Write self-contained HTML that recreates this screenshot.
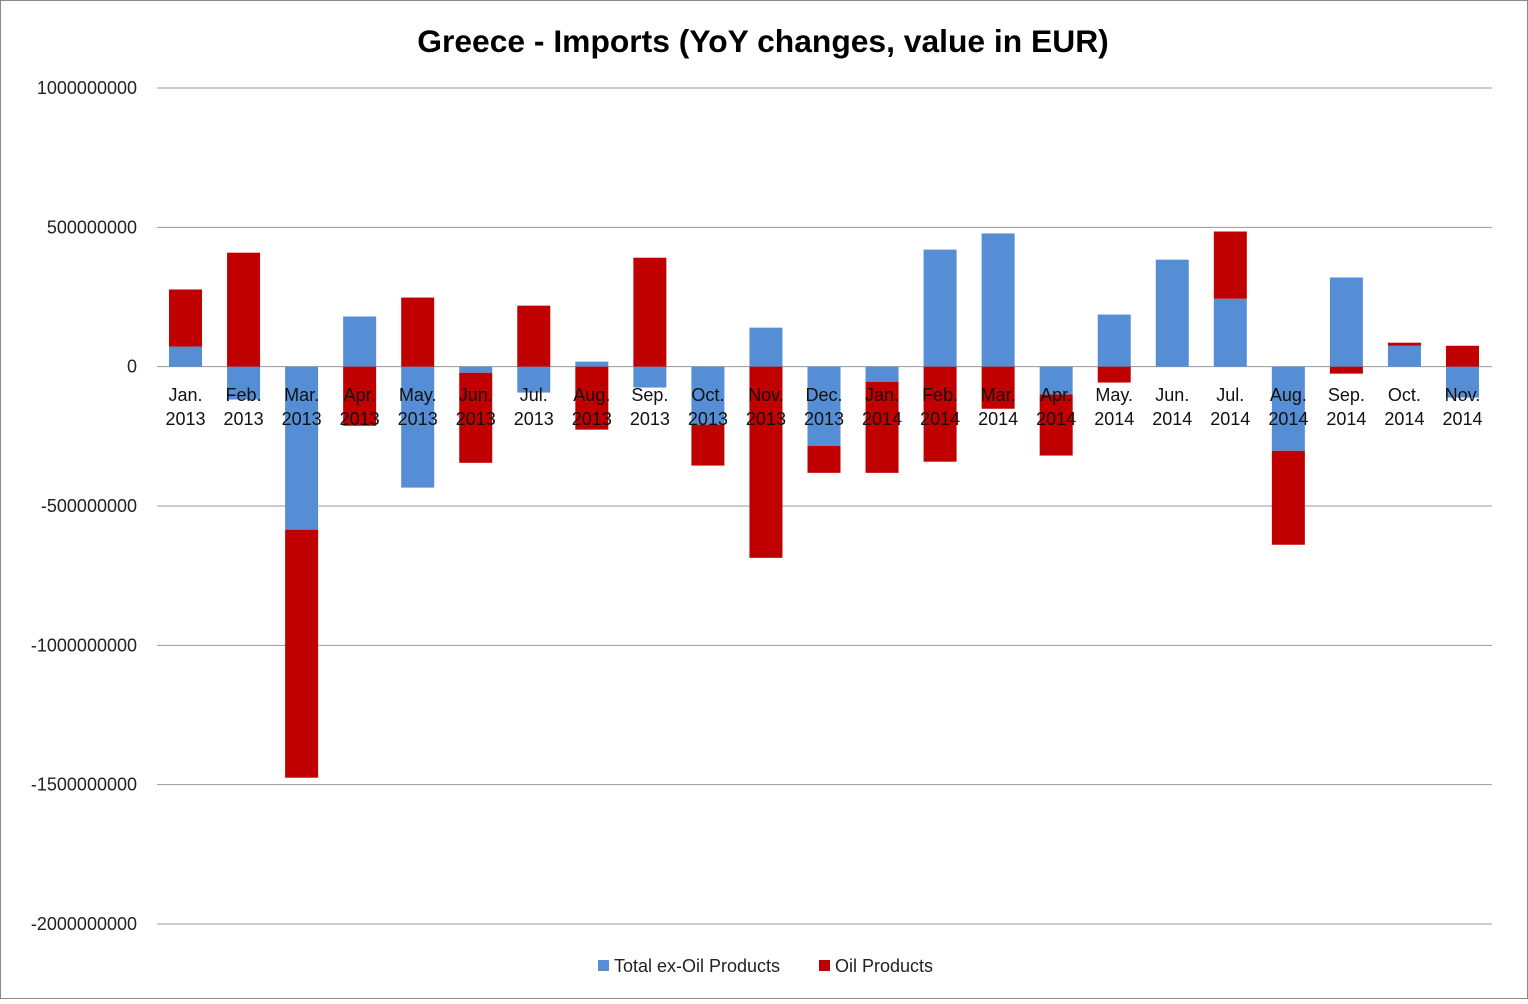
<!DOCTYPE html>
<html><head><meta charset="utf-8">
<style>
html,body{margin:0;padding:0;background:#fff;}
body{width:1528px;height:999px;overflow:hidden;font-family:"Liberation Sans",sans-serif;}
</style></head>
<body>
<svg id="chart" width="1528" height="999" xmlns="http://www.w3.org/2000/svg">
<rect x="0.5" y="0.5" width="1527" height="998" fill="#fff" stroke="#888"/>
<text x="763" y="52" text-anchor="middle" font-size="31.8" font-weight="bold" fill="#000">Greece - Imports (YoY changes, value in EUR)</text>
<g id="grid"></g><g id="bars"></g><g id="labels"></g>
<g>
<rect x="598" y="960" width="11" height="11" fill="#558ED5"/>
<text x="614" y="972" font-size="18" fill="#222">Total ex-Oil Products</text>
<rect x="819" y="960" width="11" height="11" fill="#C00000"/>
<text x="835" y="972" font-size="18" fill="#222">Oil Products</text>
</g>
</svg>
<script>
const months=["Jan.","Feb.","Mar.","Apr.","May.","Jun.","Jul.","Aug.","Sep.","Oct.","Nov.","Dec.","Jan.","Feb.","Mar.","Apr.","May.","Jun.","Jul.","Aug.","Sep.","Oct.","Nov."];
const years=["2013","2013","2013","2013","2013","2013","2013","2013","2013","2013","2013","2013","2014","2014","2014","2014","2014","2014","2014","2014","2014","2014","2014"];
const totalExOil=[72,-118,-585,180,-434,-22,-93,18,-75,-208,140,-284,-54,420,478,-100,187,384,244,-302,320,75,-111];
const oilProducts=[205,409,-890,-212,248,-323,219,-226,391,-147,-686,-97,-327,-341,-151,-219,-57,0,241,-337,-25,11,75];
const yTicks=[1000,500,0,-500,-1000,-1500,-2000];
const yTickLabels=["1000000000","500000000","0","-500000000","-1000000000","-1500000000","-2000000000"];
const NS="http://www.w3.org/2000/svg";
const x0=157,x1=1492,yTop=88,yBot=924,vMax=1000,vMin=-2000;
function y(v){return yTop+(vMax-v)/(vMax-vMin)*(yBot-yTop);}
const step=(x1-x0)/months.length;
function xc(i){return x0+step*(i+0.5);}
function mk(tag,attrs,parent){const e=document.createElementNS(NS,tag);for(const k in attrs)e.setAttribute(k,attrs[k]);parent.appendChild(e);return e;}
const grid=document.getElementById('grid'),bars=document.getElementById('bars'),labels=document.getElementById('labels');
yTicks.forEach((t,i)=>{
  const l=mk('line',{x1:x0,x2:x1,y1:y(t),y2:y(t),stroke:'#999','stroke-width':1},grid);
  
  
  const tx=mk('text',{x:137,y:y(t)+6,'text-anchor':'end','font-size':18,fill:'#222'},grid);
  tx.textContent=yTickLabels[i];
  
  
});
const bw=33;
months.forEach((m,i)=>{
  let pos=0,neg=0;
  [[totalExOil[i],'#558ED5','bar-total-ex-oil'],[oilProducts[i],'#C00000','bar-oil-products']].forEach(([v,c,n])=>{
    if(v===0)return;
    let a,b;
    if(v>0){a=pos;b=pos+v;pos=b;}else{a=neg;b=neg+v;neg=b;}
    const yt=Math.min(y(a),y(b)),h=Math.abs(y(a)-y(b));
    const r=mk('rect',{x:xc(i)-bw/2-0.5,y:yt,width:bw,height:h,fill:c},bars);
    
    
  });
  const t1=mk('text',{x:xc(i)-0.5,y:401,'text-anchor':'middle','font-size':18,fill:'#111'},labels);
  t1.textContent=m;
  
  
  const t2=mk('text',{x:xc(i)-0.5,y:425,'text-anchor':'middle','font-size':18,fill:'#111'},labels);
  t2.textContent=years[i];
  
  
});
</script>
</body></html>
